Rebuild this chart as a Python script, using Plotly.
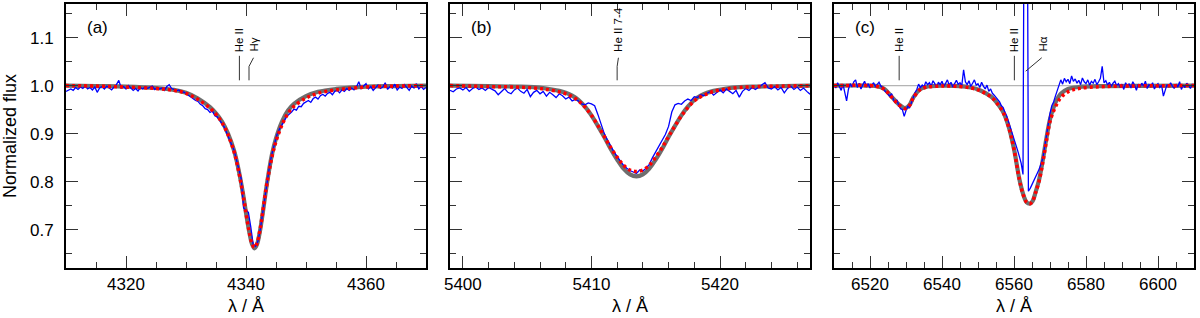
import numpy as np
import plotly.graph_objects as go

# ---------------- Panel (a): Hgamma ----------------
a_obs_start, a_obs_step = 4310.0, 0.4
a_obs_flux = [
    0.988, 0.991, 0.993, 0.990, 0.996, 0.992, 0.997, 0.994, 0.999, 0.993,
    0.996, 0.991, 0.997, 0.986, 0.995, 0.998, 0.993, 0.999, 0.995, 0.991,
    0.997, 1.002, 1.011, 0.995, 0.998, 0.993, 1.000, 0.996, 0.990, 0.994,
    0.989, 0.996, 0.993, 0.998, 0.994, 0.997, 0.999, 0.992, 0.996, 0.993,
    0.995, 0.990, 0.998, 1.002, 0.994, 0.992, 0.989, 0.991, 0.986, 0.987,
    0.983, 0.979, 0.977, 0.972, 0.969, 0.967, 0.961, 0.958, 0.952, 0.950,
    0.944, 0.947, 0.937, 0.935, 0.929, 0.921, 0.913, 0.900, 0.890, 0.877,
    0.866, 0.846, 0.826, 0.806, 0.745, 0.740, 0.736, 0.705, 0.668, 0.665,
    0.676, 0.702, 0.738, 0.775, 0.808, 0.839, 0.862, 0.883, 0.899, 0.910,
    0.920, 0.927, 0.936, 0.940, 0.945, 0.951, 0.949, 0.957, 0.956, 0.963,
    0.966, 0.969, 0.965, 0.973, 0.976, 0.972, 0.979, 0.982, 0.978, 0.984,
    0.986, 0.981, 0.988, 0.990, 0.985, 0.991, 0.988, 0.994, 0.990, 0.995,
    0.991, 0.997, 1.008, 0.994, 0.999, 1.004, 0.993, 0.998, 0.990, 0.996,
    1.001, 0.994, 0.997, 1.006, 0.992, 0.998, 0.995, 1.003, 0.991, 0.997,
    0.994, 1.002, 0.996, 0.990, 0.999, 0.995, 1.004, 0.993, 0.998, 0.992,
    0.996,
]
a_mod_wave = [4310, 4315, 4320, 4325, 4328, 4330, 4332, 4334, 4335, 4336, 4337,
              4338, 4338.5, 4339, 4339.5, 4340, 4340.5, 4341, 4341.4, 4341.8,
              4342.3, 4342.8, 4343.3, 4343.8, 4344.3, 4345, 4346, 4347, 4348,
              4350, 4352, 4355, 4360, 4365, 4370]
a_gray_flux = [1.000, 0.999, 0.998, 0.995, 0.991, 0.985, 0.973, 0.955, 0.942, 0.925, 0.900,
               0.865, 0.840, 0.810, 0.775, 0.735, 0.698, 0.670, 0.661, 0.668,
               0.695, 0.735, 0.780, 0.820, 0.855, 0.890, 0.925, 0.948, 0.962,
               0.978, 0.987, 0.993, 0.998, 0.999, 1.000]
a_red_flux = [1.000, 0.999, 0.997, 0.994, 0.990, 0.984, 0.971, 0.953, 0.940, 0.923, 0.898,
              0.863, 0.838, 0.808, 0.773, 0.734, 0.698, 0.671, 0.663, 0.670,
              0.697, 0.737, 0.781, 0.818, 0.850, 0.884, 0.918, 0.942, 0.957,
              0.974, 0.984, 0.991, 0.997, 0.999, 1.000]
a_ids = ["He II", "Hγ"]
a_id_wave = [4338.9, 4340.5]
a_id_text_wave = [4338.9, 4341.25]

# ---------------- Panel (b): He II 5411 ----------------
b_obs_start, b_obs_step = 5399.0, 0.25
b_obs_flux = [
    0.990, 0.987, 0.993, 0.995, 0.991, 0.996, 0.988, 0.994, 0.997, 0.992,
    0.995, 0.990, 0.996, 0.993, 0.989, 0.981, 0.987, 0.994, 0.986, 0.983,
    0.991, 0.995, 0.988, 0.984, 0.992, 0.977, 0.986, 0.990, 0.983, 0.988,
    0.978, 0.986, 0.981, 0.975, 0.983, 0.979, 0.972, 0.976, 0.968, 0.971,
    0.968, 0.962, 0.960, 0.964, 0.962, 0.958, 0.940, 0.918, 0.900, 0.886,
    0.873, 0.862, 0.852, 0.843, 0.834, 0.828, 0.823, 0.820, 0.817, 0.824,
    0.822, 0.828, 0.836, 0.850, 0.862, 0.874, 0.886, 0.898, 0.915, 0.945,
    0.960, 0.963, 0.961, 0.968, 0.972, 0.969, 0.977, 0.975, 0.981, 0.979,
    0.984, 0.988, 0.980, 0.986, 0.991, 0.985, 0.993, 0.988, 0.983, 0.990,
    0.976, 0.988, 0.994, 0.990, 0.996, 0.992, 0.997, 1.002, 1.006, 0.995,
    0.993, 0.998, 0.991, 0.996, 0.985, 0.994, 0.999, 0.992, 0.997, 0.990,
    0.995, 0.988, 0.982,
]
b_mod_wave = [5399, 5402, 5404, 5405.5, 5406.5, 5407.5, 5408, 5408.5, 5409, 5409.5,
              5410, 5410.5, 5411, 5411.5, 5412, 5412.5, 5413, 5413.5, 5414, 5414.5,
              5415, 5415.5, 5416, 5416.5, 5417, 5417.5, 5418, 5418.5, 5419, 5419.5,
              5420.5, 5421.5, 5423, 5425, 5427]
b_gray_flux = [1.000, 0.999, 0.998, 0.997, 0.994, 0.989, 0.985, 0.979, 0.970, 0.956,
               0.938, 0.916, 0.893, 0.868, 0.846, 0.827, 0.815, 0.811, 0.815, 0.827,
               0.846, 0.868, 0.893, 0.916, 0.938, 0.956, 0.970, 0.979, 0.985, 0.989,
               0.994, 0.997, 0.998, 0.999, 1.000]
b_red_flux = [1.000, 0.998, 0.997, 0.995, 0.992, 0.987, 0.983, 0.977, 0.968, 0.955,
              0.938, 0.917, 0.894, 0.871, 0.851, 0.834, 0.824, 0.821, 0.824, 0.834,
              0.851, 0.871, 0.894, 0.916, 0.937, 0.954, 0.968, 0.977, 0.983, 0.988,
              0.993, 0.996, 0.998, 0.999, 1.000]
b_ids = ["He II 7-4"]
b_id_wave = [5412.0]
b_id_text_wave = [5412.1]

# ---------------- Panel (c): Halpha ----------------
c_obs_start, c_obs_step = 6510.0, 0.5
c_obs_flux = [
    1.002, 0.995, 1.006, 0.998, 0.990, 1.003, 0.985, 0.968, 0.992, 1.004,
    0.997, 1.008, 1.012, 0.996, 1.005, 0.993, 1.002, 1.009, 0.997, 1.004,
    0.995, 1.001, 1.006, 0.998, 1.003, 1.007, 0.999, 0.996, 0.990, 0.986,
    0.984, 0.978, 0.983, 0.971, 0.965, 0.970, 0.958, 0.952, 0.950, 0.936,
    0.948, 0.957, 0.954, 0.966, 0.973, 0.985, 0.992, 1.003, 0.996, 1.001,
    0.997, 1.008, 1.002, 1.006, 0.999, 1.010, 1.004, 0.996, 1.007, 1.002,
    1.009, 0.998, 1.005, 1.012, 1.001, 1.007, 0.997, 1.004, 1.011, 1.003,
    1.006, 1.000, 1.033, 1.008, 1.002, 1.010, 0.998, 1.005, 1.012, 1.001,
    1.004, 0.996, 1.007, 0.999, 0.993, 1.001, 0.988, 0.993, 0.984, 0.980,
    0.976, 0.970, 0.966, 0.958, 0.954, 0.944, 0.936, 0.924, 0.913, 0.901,
    0.888, 0.876, 0.865, 0.852, 0.838, 0.815, 1.750, 1.800, 0.780, 0.786,
    0.795, 0.803, 0.812, 0.818, 0.826, 0.835, 0.848, 0.872, 0.897, 0.921,
    0.942, 0.958, 0.966, 0.978, 0.990, 1.004, 1.012, 1.003, 1.015, 1.008,
    1.013, 1.004, 1.020, 1.009, 1.014, 1.005, 1.011, 1.002, 1.016, 1.008,
    1.004, 1.012, 1.001, 1.009, 1.005, 1.013, 1.002, 1.008, 1.015, 1.040,
    1.006, 1.010, 1.001, 1.007, 0.998, 1.005, 1.009, 1.000, 1.004, 0.996,
    1.003, 0.992, 1.006, 0.999, 1.004, 0.995, 1.008, 1.001, 0.990, 1.003,
    0.997, 1.005, 0.999, 1.009, 0.994, 1.002, 0.998, 1.006, 0.993, 1.000,
    1.004, 0.996, 1.001, 0.978, 0.993, 1.002, 0.997, 1.006, 0.999, 0.994,
    1.003, 0.997, 1.008, 0.992, 1.001, 0.996, 1.005, 0.999, 0.994, 1.002,
    0.998,
]
c_mod_wave = [6510, 6520, 6522, 6524, 6526, 6528, 6529.7, 6531, 6532, 6534, 6536,
              6540, 6545, 6548, 6550, 6552, 6554, 6555.5, 6557, 6558.5, 6560,
              6561.5, 6562.5, 6563.5, 6564.4, 6565.2, 6566, 6567, 6568, 6569,
              6570, 6571, 6572, 6573, 6575, 6578, 6585, 6610]
c_gray_flux = [1.000, 1.000, 0.999, 0.993, 0.977, 0.961, 0.953, 0.960, 0.975, 0.993, 0.998,
               1.000, 0.999, 0.996, 0.992, 0.985, 0.975, 0.962, 0.945, 0.915, 0.868,
               0.805, 0.775, 0.757, 0.754, 0.760, 0.778, 0.805, 0.845, 0.890,
               0.930, 0.955, 0.972, 0.983, 0.993, 0.997, 0.999, 1.000]
c_red_flux = [1.000, 1.000, 0.998, 0.992, 0.976, 0.960, 0.952, 0.959, 0.974, 0.992, 0.997,
              0.999, 0.998, 0.995, 0.991, 0.984, 0.974, 0.961, 0.944, 0.914, 0.867,
              0.804, 0.774, 0.757, 0.754, 0.760, 0.777, 0.802, 0.840, 0.884,
              0.925, 0.947, 0.963, 0.975, 0.987, 0.994, 0.998, 1.000]
c_ids = ["He II", "He II", "Hα"]
c_id_wave = [6528.1, 6560.1, 6563.25]
c_id_text_wave = [6528.1, 6560.1, 6568.1]

panel_tags = ["(a)", "(b)", "(c)"]
x_ranges = [[4310, 4370], [5399, 5427], [6510, 6610]]
x_dticks = [20, 10, 20]
x_minor = [5, 2, 5]
y_range = [0.62, 1.17]
x_title = "λ / Å"
y_title = "Normalized flux"

FONT = "Liberation Sans, Arial, Helvetica, sans-serif"
BLUE = "#0000ff"
GRAY = "#6e6e6e"
RED = "#ff0000"

panels = [
    (a_obs_start, a_obs_step, a_obs_flux, a_mod_wave, a_gray_flux, a_red_flux,
     a_ids, a_id_wave, a_id_text_wave),
    (b_obs_start, b_obs_step, b_obs_flux, b_mod_wave, b_gray_flux, b_red_flux,
     b_ids, b_id_wave, b_id_text_wave),
    (c_obs_start, c_obs_step, c_obs_flux, c_mod_wave, c_gray_flux, c_red_flux,
     c_ids, c_id_wave, c_id_text_wave),
]

W, H = 1200, 318
ML, MR, MT, MB = 66, 6, 4, 50
pw = W - ML - MR
ph = H - MT - MB
domains = [[0, 360 / pw], [384 / pw, 744 / pw], [768 / pw, 1.0]]

fig = go.Figure()
shapes = []
annotations = []

for i, (o0, ods, oflux, mw, gflux, rflux, ids, idw, idtw) in enumerate(panels):
    sfx = "" if i == 0 else str(i + 1)
    xa, ya = "x" + sfx, "y" + sfx
    owave = o0 + ods * np.arange(len(oflux))
    fig.add_trace(go.Scatter(x=mw, y=gflux, mode="lines", xaxis=xa, yaxis=ya,
                             line=dict(color=GRAY, width=4.2, shape="spline"),
                             showlegend=False, hoverinfo="skip"))
    fig.add_trace(go.Scatter(x=owave, y=oflux, mode="lines", xaxis=xa, yaxis=ya,
                             line=dict(color=BLUE, width=1.3),
                             showlegend=False, hoverinfo="skip"))
    fig.add_trace(go.Scatter(x=mw, y=rflux, mode="lines", xaxis=xa, yaxis=ya,
                             line=dict(color=RED, width=3.5, dash="3px,3px", shape="spline"),
                             showlegend=False, hoverinfo="skip"))
    # continuum
    shapes.append(dict(type="line", xref=xa + " domain", yref=ya, x0=0, x1=1, y0=1.0, y1=1.0,
                       line=dict(color="#b4b4b4", width=1.2), layer="below"))
    # line identifications
    for name, w, tw in zip(ids, idw, idtw):
        if tw == w:
            path = f"M {w},1.011 L {w},1.062"
        elif name == "Hα":
            path = f"M {w},1.030 L {tw - 0.4},1.058"
        else:
            path = f"M {w},1.011 L {w},1.040 L {tw},1.058"
        shapes.append(dict(type="path", xref=xa, yref=ya, path=path,
                           line=dict(color="#333333", width=1)))
        annotations.append(dict(x=tw, y=1.068, xref=xa, yref=ya, text=name, textangle=-90,
                                showarrow=False, xanchor="center", yanchor="bottom",
                                font=dict(family=FONT, size=11.5, color="black"),
                                borderpad=0))
    annotations.append(dict(x=19 / 360, y=0.955, xref=xa + " domain", yref=ya + " domain",
                            text=panel_tags[i], showarrow=False, xanchor="left", yanchor="top",
                            font=dict(family=FONT, size=17, color="black")))
    # x-axis title, centred under each panel
    annotations.append(dict(x=0.5, y=(268 - 306) / ph, xref=xa + " domain", yref="paper",
                            text=x_title, showarrow=False, xanchor="center", yanchor="middle",
                            font=dict(family=FONT, size=18, color="black")))

# y-axis title
annotations.append(dict(x=(10 - ML) / pw, y=0.5, xref="paper", yref="paper", text=y_title,
                        textangle=-90, showarrow=False, xanchor="center", yanchor="middle",
                        font=dict(family=FONT, size=18, color="black")))

axis_common = dict(showline=True, linecolor="black", linewidth=2, mirror="allticks",
                   ticks="inside", ticklen=12, tickwidth=1, tickcolor="#333333",
                   showgrid=False, zeroline=False, automargin=False,
                   tickfont=dict(family=FONT, size=17, color="black"))

layout = dict(width=W, height=H, margin=dict(l=ML, r=MR, t=MT, b=MB, autoexpand=False),
              paper_bgcolor="white", plot_bgcolor="white",
              shapes=shapes, annotations=annotations, showlegend=False)

for i in range(3):
    sfx = "" if i == 0 else str(i + 1)
    layout["xaxis" + sfx] = dict(
        axis_common, domain=domains[i], range=x_ranges[i], anchor="y" + sfx,
        tick0=0, dtick=x_dticks[i],
        minor=dict(ticks="inside", ticklen=6, tickwidth=1, tickcolor="#333333",
                   dtick=x_minor[i], tick0=0, showgrid=False),
    )
    layout["yaxis" + sfx] = dict(
        axis_common, domain=[0, 1], range=y_range, anchor="x" + sfx,
        tick0=0, dtick=0.1, tickformat=".1f", showticklabels=(i == 0),
        ticklabelstandoff=7,
        minor=dict(ticks="inside", ticklen=6, tickwidth=1, tickcolor="#333333",
                   dtick=0.05, tick0=0, showgrid=False),
    )

fig.update_layout(**layout)
fig.write_html("out.html", config={"displayModeBar": False},
               post_script="document.body.style.margin='0px';document.body.style.padding='0px';")
